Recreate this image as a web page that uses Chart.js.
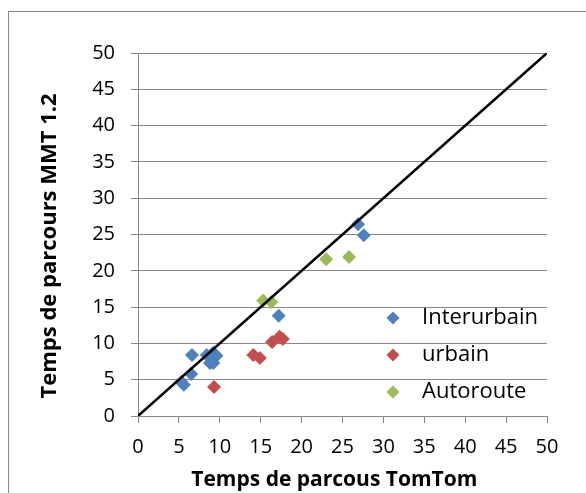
<!DOCTYPE html>
<html>
<head>
<meta charset="utf-8">
<script src="https://cdn.jsdelivr.net/npm/chart.js@4"></script>
<style>
  body { margin: 0; background: #fff; }
  #wrap { width: 586px; height: 493px; }
</style>
</head>
<body>
<div id="wrap"><canvas id="chart" width="586" height="493"></canvas></div>
<script>
// TomTom time (x) vs MMT 1.2 time (y)
const interX = [6.6, 8.4, 9.2, 9.6, 8.8, 9.2, 6.5, 5.3, 5.6, 17.2, 26.9, 27.6];
const interY = [8.4, 8.4, 8.7, 8.3, 7.3, 7.3, 5.8, 4.7, 4.3, 13.8, 26.4, 24.9];
const urbX = [9.3, 14.1, 14.9, 16.4, 17.3, 17.7];
const urbY = [4.0, 8.4, 8.0, 10.2, 10.9, 10.6];
const autoX = [15.3, 16.3, 23.0, 25.8];
const autoY = [15.9, 15.7, 21.6, 21.9];
const labels = ["Interurbain", "urbain", "Autoroute"];
const colors = ["#4F81BD", "#C0504D", "#9BBB59"];

function pts(xs, ys) {
    return xs.map((x, i) => ({ x: x, y: ys[i] }));
}

const font = "'Open Sans', 'Noto Sans', sans-serif";

// outer frame and legend drawn by hand
const frame = {
    id: "frame",
    beforeDraw(c) {
        const ctx = c.ctx;
        ctx.save();
        ctx.strokeStyle = "#888";
        ctx.lineWidth = 1;
        ctx.strokeRect(8.5, 11.5, 600, 500);
        ctx.restore();
    },
    afterDraw(c) {
        const ctx = c.ctx;
        ctx.save();
        ctx.font = "22px " + font;
        ctx.textBaseline = "middle";
        labels.forEach((lab, i) => {
            const y = 318 + i * 37;
            ctx.fillStyle = colors[i];
            ctx.beginPath();
            ctx.moveTo(393, y - 6.5);
            ctx.lineTo(399.5, y);
            ctx.lineTo(393, y + 6.5);
            ctx.lineTo(386.5, y);
            ctx.closePath();
            ctx.fill();
            ctx.fillStyle = "#000";
            ctx.fillText(lab, 422, y);
        });
        ctx.restore();
    }
};

const ptStyle = (i) => ({
    pointStyle: "rectRot",
    pointRadius: 7,
    pointHoverRadius: 7,
    backgroundColor: colors[i],
    borderColor: colors[i],
    borderWidth: 0
});

new Chart(document.getElementById("chart"), {
    type: "scatter",
    data: {
        datasets: [
            { label: "diag", type: "line", data: [{ x: 0, y: 0 }, { x: 50, y: 50 }],
              borderColor: "#000", borderWidth: 2.5, pointRadius: 0, order: 0 },
            Object.assign({ label: labels[0], data: pts(interX, interY), order: 1 }, ptStyle(0)),
            Object.assign({ label: labels[1], data: pts(urbX, urbY), order: 1 }, ptStyle(1)),
            Object.assign({ label: labels[2], data: pts(autoX, autoY), order: 1 }, ptStyle(2))
        ]
    },
    options: {
        responsive: false,
        animation: false,
        layout: { padding: { left: 0, right: 39, top: 53, bottom: 0 } },
        plugins: { legend: { display: false }, tooltip: { enabled: false } },
        scales: {
            x: {
                type: "linear", min: 0, max: 50,
                ticks: { stepSize: 5, color: "#000", font: { family: font, size: 20 }, padding: 12, maxRotation: 0 },
                grid: { display: true, drawOnChartArea: false, drawTicks: true, tickLength: 7, color: "#888" },
                border: { color: "#888", width: 1 },
                title: { display: true, text: "Temps de parcous TomTom   ", color: "#000",
                         font: { family: font, size: 21, weight: "bold" }, padding: { top: 0, bottom: 0 } },
                afterFit(s) { s.height = 77; }
            },
            y: {
                type: "linear", min: 0, max: 50,
                ticks: { stepSize: 5, color: "#000", font: { family: font, size: 20 }, padding: 16 },
                grid: { color: "#888", lineWidth: 1, tickLength: 7, drawTicks: true },
                border: { color: "#888", width: 1 },
                title: { display: true, text: "Temps de parcours MMT 1.2    ", color: "#000",
                         font: { family: font, size: 22, weight: "bold" }, padding: { top: 37, bottom: 0 } },
                afterFit(s) { s.width = 138; }
            }
        }
    },
    plugins: [frame]
});
</script>
</body>
</html>
